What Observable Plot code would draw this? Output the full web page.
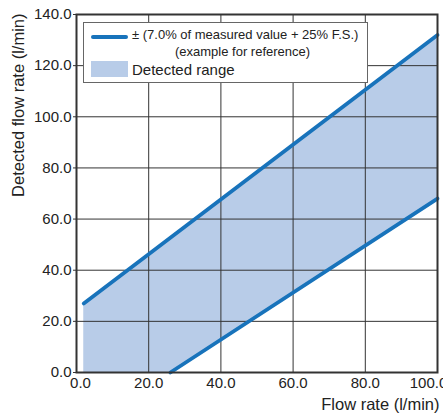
<!DOCTYPE html>
<html><head><meta charset="utf-8">
<script src="https://cdn.jsdelivr.net/npm/d3@7"></script>
<script src="https://cdn.jsdelivr.net/npm/@observablehq/plot@0.6"></script>
<style>
body{margin:0;background:#fff;font-family:"Liberation Sans",Arial,Helvetica,sans-serif;}
#wrap{position:relative;width:443px;height:414px;overflow:hidden;background:#fff}
#legend{position:absolute;left:83px;top:22px;width:283px;height:59px;border:1px solid #666;background:#fff;color:#222}
#legend .sw-line{position:absolute;left:7px;top:12px;width:37px;height:4px;border-radius:2px;background:#1873bb}
#legend .sw-rect{position:absolute;left:7px;top:38px;width:37px;height:16px;background:#b8cce8}
#legend .t{position:absolute;white-space:nowrap;line-height:16px}
</style>
</head><body>
<div id="wrap"><div id="chart"></div>
<div id="legend">
  <div class="sw-line"></div>
  <div class="t" id="l1" style="left:48px;top:4px;font-size:13px"></div>
  <div class="t" id="l2" style="left:91px;top:21px;font-size:13px"></div>
  <div class="sw-rect"></div>
  <div class="t" id="l3" style="left:48px;top:39px;font-size:15px"></div>
</div>
</div>
<script>
// Data
const areaFlow = [2, 26, 100];
const areaUpper = [27, 53, 132];
const areaLower = [0, 0, 68];
const upperX = [2, 100];
const upperY = [27, 132];
const lowerX = [26, 100];
const lowerY = [0, 68];
const xTicks = [0, 20, 40, 60, 80, 100];
const yTicks = [0, 20, 40, 60, 80, 100, 120, 140];
const xTitle = "Flow rate (l/min)";
const yTitle = "Detected flow rate (l/min)";
const legendLabels = ["± (7.0% of measured value + 25% F.S.)", "(example for reference)", "Detected range"];

const areaRows = areaFlow.map((x, i) => ({x, lo: areaLower[i], hi: areaUpper[i]}));
const upperRows = upperX.map((x, i) => ({x, y: upperY[i]}));
const lowerRows = lowerX.map((x, i) => ({x, y: lowerY[i]}));

const fmt = d => d.toFixed(1);
const blue = "#1873bb";
const xFirst = xTicks.slice(0, 1);
const xMid = xTicks.slice(1, -1);
const xLast = xTicks.slice(-1);

const chart = Plot.plot({
  width: 443,
  height: 414,
  marginLeft: 76,
  marginRight: 6,
  marginTop: 14,
  marginBottom: 42,
  x: {domain: [0, 100]},
  y: {domain: [0, 140]},
  style: {fontFamily: '"Liberation Sans", Arial, Helvetica, sans-serif', fontSize: "15px", color: "#222", background: "#fff"},
  marks: [
    Plot.areaY(areaRows, {x: "x", y1: "lo", y2: "hi", fill: "#b8cce8"}),
    Plot.gridX(xTicks, {stroke: "#333", strokeOpacity: 1, strokeWidth: 1}),
    Plot.gridY(yTicks, {stroke: "#333", strokeOpacity: 1, strokeWidth: 1}),
    Plot.line(upperRows, {x: "x", y: "y", stroke: blue, strokeWidth: 3.8}),
    Plot.line(lowerRows, {x: "x", y: "y", stroke: blue, strokeWidth: 3.8}),
    Plot.frame({stroke: "#333", strokeWidth: 2}),
    Plot.axisX(xFirst, {tickFormat: fmt, tickSize: 0, tickPadding: 5, label: null, fill: "#222", dx: 4}),
    Plot.axisX(xMid, {tickFormat: fmt, tickSize: 0, tickPadding: 5, label: null, fill: "#222"}),
    Plot.axisX(xLast, {tickFormat: fmt, tickSize: 0, tickPadding: 5, label: null, fill: "#222", dx: -9}),
    Plot.axisY(yTicks, {tickFormat: fmt, tickSize: 3, tickPadding: 2, label: null, stroke: "#333", fill: "#222"}),
    Plot.text([xTitle], {frameAnchor: "bottom-right", textAnchor: "end", lineAnchor: "middle", dx: 2, dy: 32, fontSize: 16.5, fill: "#222"}),
    Plot.text([yTitle], {frameAnchor: "top-left", textAnchor: "end", lineAnchor: "middle", rotate: -90, dx: -58, dy: -1, fontSize: 16.5, fill: "#222"})
  ]
});
document.getElementById("chart").append(chart);
document.getElementById("l1").textContent = legendLabels[0];
document.getElementById("l2").textContent = legendLabels[1];
document.getElementById("l3").textContent = legendLabels[2];
</script>
</body></html>
